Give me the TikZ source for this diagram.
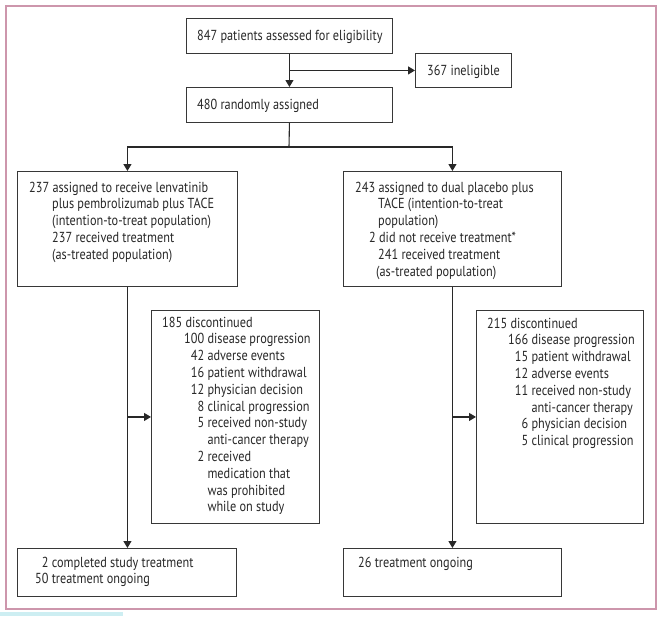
\documentclass[tikz,border=0pt]{standalone}
\usepackage{fontspec}
\setmainfont{PT Sans}[FakeStretch=0.845]
\usetikzlibrary{arrows.meta}
\definecolor{framec}{RGB}{205,150,172}
\definecolor{boxc}{RGB}{55,55,55}
\definecolor{linec}{RGB}{40,40,40}
\definecolor{txtc}{RGB}{40,40,40}
\definecolor{stripc}{RGB}{205,238,242}
\tikzset{
  box/.style={draw=boxc, line width=0.9pt, inner sep=0pt, anchor=north west},
  txt/.style={inner sep=0pt, anchor=base west, text=txtc, font=\fontsize{14.5}{16.8}\selectfont},
  arr/.style={draw=linec, line width=1.1pt, -{Triangle[length=7pt,width=8pt]}},
  ln/.style={draw=linec, line width=1.1pt}
}
\begin{document}
\begin{tikzpicture}[x=1pt,y=-1pt]
\useasboundingbox (0,0) rectangle (660,616);
\fill[white] (0,0) rectangle (660,616);
\draw[framec, line width=1.2pt] (6,6) rectangle (656,609);
\fill[stripc] (0,612) rectangle (123,616);
% boxes
\node[box, minimum width=206pt, minimum height=35pt] (top) at (186,18) {};
\node[box, minimum width=96pt, minimum height=34pt] (inel) at (415,53) {};
\node[box, minimum width=206pt, minimum height=35pt] (rand) at (186,87) {};
\node[box, minimum width=220pt, minimum height=115pt] (L) at (17,171) {};
\node[box, minimum width=218pt, minimum height=115pt] (R) at (343,171) {};
\node[box, minimum width=168pt, minimum height=213pt] (LD) at (151,310) {};
\node[box, minimum width=167pt, minimum height=213pt] (RD) at (476,310) {};
\node[box, minimum width=219pt, minimum height=48pt] (LB) at (17,548) {};
\node[box, minimum width=218pt, minimum height=48pt] (RB) at (343,548) {};
% texts
\node[txt] (ttop) at (197,40) {847 patients assessed for eligibility};
\node[txt] (tinel) at (427,75) {367 ineligible};
\node[txt] (trand) at (197,109) {480 randomly assigned};
\node[txt] (tL) at (29,192) {\begin{tabular}[t]{@{}l@{}}
237 assigned to receive lenvatinib\\
\hspace*{23pt}plus pembrolizumab plus TACE\\
\hspace*{23pt}(intention-to-treat population)\\
\hspace*{23pt}237 received treatment\\
\hspace*{23pt}(as-treated population)
\end{tabular}};
\node[txt] (tR) at (355,192) {\begin{tabular}[t]{@{}l@{}}
243 assigned to dual placebo plus\\
\hspace*{23pt}TACE (intention-to-treat\\
\hspace*{23pt}population)\\
\hspace*{14pt}2 did not receive treatment*\\
\hspace*{23pt}241 received treatment\\
\hspace*{21pt}(as-treated population)
\end{tabular}};
\node[txt] (tLD) at (162,327) {\begin{tabular}[t]{@{\hspace*{22pt}}r@{\ }l@{}}
\multicolumn{2}{@{}l@{}}{185 discontinued}\\
100 & disease progression\\
42 & adverse events\\
16 & patient withdrawal\\
12 & physician decision\\
8 & clinical progression\\
5 & received non-study\\
 & anti-cancer therapy\\
2 & received\\
 & medication that\\
 & was prohibited\\
 & while on study
\end{tabular}};
\node[txt] (tRD) at (487,328) {\begin{tabular}[t]{@{\hspace*{21pt}}r@{\ }l@{}}
\multicolumn{2}{@{}l@{}}{215 discontinued}\\
166 & disease progression\\
15 & patient withdrawal\\
12 & adverse events\\
11 & received non-study\\
 & anti-cancer therapy\\
6 & physician decision\\
5 & clinical progression
\end{tabular}};
\node[txt] (tLB) at (35,567) {\begin{tabular}[t]{@{}r@{\ }l@{}}
2 & completed study treatment\\
50 & treatment ongoing
\end{tabular}};
\node[txt] (tRB) at (358,567) {26 treatment ongoing};
% connectors
\coordinate (split) at (289,147);
\draw[arr] (top) -- (rand);
\draw[arr] (top.south |- inel.west) -- (inel.west);
\draw[ln] (rand.south) -- (split);
\draw[arr] (split) -| (L.north);
\draw[arr] (split) -| (R.north);
\draw[arr] (L) -- (L.south |- LB.north);
\draw[arr] (L.south |- LD.west) -- (LD.west);
\draw[arr] (R) -- (R.south |- RB.north);
\draw[arr] (R.south |- RD.west) -- (RD.west);
\end{tikzpicture}
\end{document}
